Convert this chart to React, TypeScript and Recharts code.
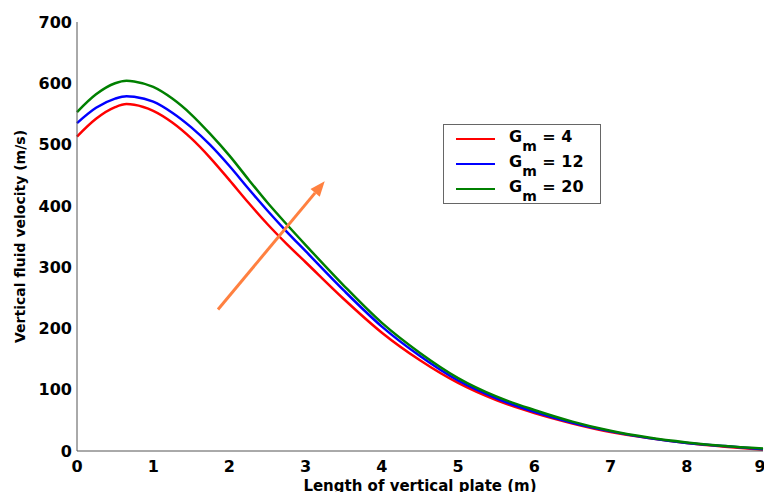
import { Line, LineChart, ReferenceLine, XAxis, YAxis } from "recharts"

const xs = [0, 0.25, 0.5, 0.65, 0.75, 1, 1.25, 1.5, 1.75, 2, 2.25, 2.5, 2.75, 3, 3.5, 4, 4.5, 5, 5.5, 6, 6.5, 7, 7.5, 8, 8.5, 9]
const gm4 = [513, 542, 561, 566, 565, 555, 536, 510, 478, 442, 405, 370, 338, 308, 248, 193, 148, 111, 83, 62, 45, 31, 21, 13, 7, 2]
const gm12 = [535, 560, 575, 579, 578, 570, 552, 528, 499, 465, 428, 392, 358, 326, 262, 203, 155, 115, 86, 64, 46, 32, 21, 13, 8, 3]
const gm20 = [553, 582, 600, 604, 603, 594, 575, 549, 517, 482, 443, 405, 370, 336, 270, 209, 160, 119, 89, 67, 48, 33, 22, 14, 8, 4]

const xTicks = [0, 1, 2, 3, 4, 5, 6, 7, 8, 9]
const yTicks = [0, 100, 200, 300, 400, 500, 600, 700]

const seriesNames = ["4", "12", "20"]
const seriesColors = ["#ff0000", "#0000ff", "#008000"]

// arrow drawn across the curves (start, end)
const arrowFrom = { x: 1.85, y: 231 }
const arrowTo = { x: 3.25, y: 440 }

const data = xs.map((x, i) => ({ x, gm4: gm4[i], gm12: gm12[i], gm20: gm20[i] }))

const font = "'DejaVu Sans', sans-serif"
const axisGray = "#555"
const tickStyle = { fill: "#000", fontSize: 16, fontWeight: "bold", fontFamily: font }

const Arrow = (props: any) => {
  const { x1, y1, x2, y2 } = props
  const ang = Math.atan2(y2 - y1, x2 - x1)
  const len = 15
  const half = 6
  const bx = x2 - len * Math.cos(ang)
  const by = y2 - len * Math.sin(ang)
  const px = -Math.sin(ang) * half
  const py = Math.cos(ang) * half
  return (
    <g>
      <line x1={x1} y1={y1} x2={bx} y2={by} stroke="#ff8040" strokeWidth={3} />
      <polygon points={`${x2},${y2} ${bx + px},${by + py} ${bx - px},${by - py}`} fill="#ff8040" />
    </g>
  )
}

const LegendBox = () => (
  <div
    style={{
      position: "absolute",
      left: 443,
      top: 124,
      border: "1px solid #666",
      width: 158,
      height: 80,
      boxSizing: "border-box",
      padding: "3px 0 0 12px",
      background: "#fff",
      fontFamily: font,
      fontWeight: "bold",
      fontSize: 16,
      color: "#000",
    }}
  >
    {seriesNames.map((n, i) => (
      <div key={n} style={{ display: "flex", alignItems: "flex-start", height: 25 }}>
        <div style={{ width: 39, height: 0, borderTop: `2.5px solid ${seriesColors[i]}`, marginTop: 10, marginRight: 14 }} />
        <span style={{ lineHeight: "18px" }}>
          G<sub style={{ fontSize: 14, verticalAlign: "-9px" }}>m</sub> = {n}
        </span>
      </div>
    ))}
  </div>
)

export default function App() {
  return (
    <div style={{ position: "absolute", left: 0, top: 0, width: 764, height: 492, background: "#fff" }}>
      <LineChart width={764} height={492} data={data} margin={{ top: 22, right: 1, bottom: 0, left: 17 }}>
        <XAxis
          dataKey="x"
          type="number"
          domain={[0, 9]}
          ticks={xTicks}
          height={41}
          tickSize={0}
          tickMargin={10}
          tick={tickStyle}
          axisLine={{ stroke: axisGray }}
          label={{
            value: "Length of vertical plate (m)",
            position: "insideBottom",
            offset: 1,
            style: { fill: "#000", fontSize: 15, fontWeight: "bold", fontFamily: font },
          }}
        />
        <XAxis xAxisId="bt" dataKey="x" type="number" domain={[0, 9]} ticks={xTicks} orientation="bottom" mirror height={0} tick={false} axisLine={false} tickLine={{ stroke: axisGray }} tickSize={5} />
        <XAxis xAxisId="tp" dataKey="x" type="number" domain={[0, 9]} ticks={xTicks} orientation="top" mirror height={0} tick={false} axisLine={{ stroke: axisGray }} tickLine={{ stroke: axisGray }} tickSize={5} />
        <YAxis
          type="number"
          domain={[0, 700]}
          ticks={yTicks}
          width={60}
          tickSize={0}
          tickMargin={5}
          tick={tickStyle}
          axisLine={{ stroke: axisGray }}
          label={{
            value: "Vertical fluid velocity (m/s)",
            angle: -90,
            position: "center",
            dx: -27,
            style: { fill: "#000", fontSize: 14, fontWeight: "bold", fontFamily: font },
          }}
        />
        <YAxis yAxisId="lt" type="number" domain={[0, 700]} ticks={yTicks} orientation="left" mirror width={0} tick={false} axisLine={false} tickLine={{ stroke: axisGray }} tickSize={5} />
        <YAxis yAxisId="rt" type="number" domain={[0, 700]} ticks={yTicks} orientation="right" mirror width={0} tick={false} axisLine={{ stroke: axisGray }} tickLine={{ stroke: axisGray }} tickSize={5} />
        <Line type="monotone" dataKey="gm4" stroke={seriesColors[0]} strokeWidth={2.5} dot={false} isAnimationActive={false} />
        <Line type="monotone" dataKey="gm12" stroke={seriesColors[1]} strokeWidth={2.5} dot={false} isAnimationActive={false} />
        <Line type="monotone" dataKey="gm20" stroke={seriesColors[2]} strokeWidth={2.5} dot={false} isAnimationActive={false} />
        <ReferenceLine segment={[arrowFrom, arrowTo]} shape={Arrow} ifOverflow="visible" />
      </LineChart>
      <LegendBox />
    </div>
  )
}
